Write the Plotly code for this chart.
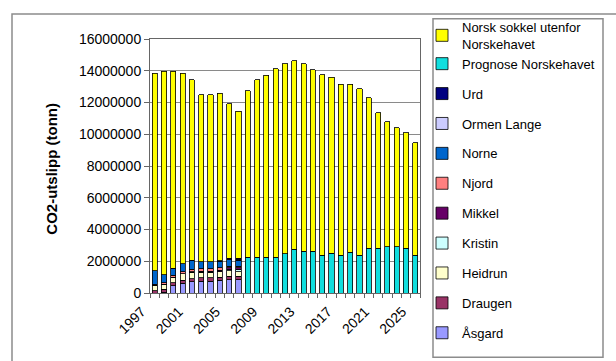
import plotly.graph_objects as go

years = [1997, 1998, 1999, 2000, 2001, 2002, 2003, 2004, 2005, 2006,
         2007, 2008, 2009, 2010, 2011, 2012, 2013, 2014, 2015, 2016,
         2017, 2018, 2019, 2020, 2021, 2022, 2023, 2024, 2025]

# field emissions (tonnes), 1997-2006 (zero afterwards)
asgard      = [0, 50000, 450000, 600000, 700000, 750000, 750000, 800000, 850000, 850000] + [0] * 19
draugen     = [150000, 200000, 200000, 200000, 200000, 200000, 200000, 200000, 200000, 200000] + [0] * 19
heidrun     = [350000, 300000, 350000, 400000, 400000, 350000, 350000, 350000, 350000, 300000] + [0] * 19
kristin     = [0, 0, 0, 0, 0, 0, 0, 0, 100000, 150000] + [0] * 19
mikkel      = [0, 0, 0, 0, 50000, 80000, 80000, 80000, 80000, 80000] + [0] * 19
njord       = [50000, 100000, 120000, 150000, 150000, 150000, 150000, 150000, 120000, 120000] + [0] * 19
norne       = [850000, 500000, 450000, 500000, 550000, 450000, 450000, 400000, 400000, 350000] + [0] * 19
ormen_lange = [0, 0, 0, 0, 0, 0, 0, 0, 0, 50000] + [0] * 19
urd         = [0, 0, 0, 0, 0, 0, 0, 50000, 80000, 80000] + [0] * 19

prognose = [0] * 10 + [2250000, 2250000, 2250000, 2250000, 2460000, 2770000, 2640000, 2640000,
                       2390000, 2500000, 2390000, 2560000, 2390000, 2810000, 2810000, 2910000,
                       2910000, 2810000, 2390000]

norsk_sokkel = [12430000, 12810000, 12390000, 11980000, 11390000, 10520000, 10520000, 10550000,
                9740000, 9270000, 10490000, 11190000, 11480000, 11890000, 11980000, 11870000,
                11810000, 11420000, 11360000, 11090000, 10750000, 10580000, 10480000, 9500000,
                8560000, 7870000, 7500000, 7290000, 7060000]

series = [
    ("Åsgard", asgard, "#9999FF"),
    ("Draugen", draugen, "#993366"),
    ("Heidrun", heidrun, "#FFFFCC"),
    ("Kristin", kristin, "#CCFFFF"),
    ("Mikkel", mikkel, "#660066"),
    ("Njord", njord, "#FF8080"),
    ("Norne", norne, "#0066CC"),
    ("Ormen Lange", ormen_lange, "#CCCCFF"),
    ("Urd", urd, "#000080"),
    ("Prognose Norskehavet", prognose, "#11DEDE"),
    ("Norsk sokkel utenfor<br>Norskehavet", norsk_sokkel, "#FFFF00"),
]

ytick_vals = [0, 2000000, 4000000, 6000000, 8000000, 10000000, 12000000, 14000000, 16000000]
xtick_vals = [1997, 2001, 2005, 2009, 2013, 2017, 2021, 2025]

FONT = "Liberation Sans, Arial, sans-serif"

fig = go.Figure()
n = len(series)
for i, (name, vals, col) in enumerate(series):
    grp = "top" if name.startswith("Prognose") or name.startswith("Norsk") else name
    fig.add_trace(go.Bar(
        x=years, y=vals, name=name, legendgroup=grp, legendrank=n - i,
        marker=dict(color=col, line=dict(color="#000000", width=0.8)),
    ))

# plot area in px: x 150..420, y 37..293
L, R, T, B = 150, 420, 37.3, 293.3
W, H = R - L, B - T

def px(x):
    return (x - L) / W

def py(y):
    return (B - y) / H

fig.update_layout(
    width=616, height=361,
    margin=dict(l=L, r=616 - R, t=T, b=361 - B, pad=0),
    paper_bgcolor="white", plot_bgcolor="white",
    barmode="stack", bargap=0.45,
    font=dict(family=FONT, size=14, color="#000"),
    showlegend=True,
    legend=dict(
        traceorder="grouped", tracegroupgap=10, maxheight=800,
        x=px(422), y=py(10), xanchor="left", yanchor="top",
        bgcolor="rgba(0,0,0,0)", borderwidth=0,
        font=dict(family=FONT, size=13, color="#000"),
    ),
    xaxis=dict(
        range=[1996.5, 2025.5], tickmode="array", tickvals=xtick_vals,
        ticktext=[str(v) for v in xtick_vals], tickangle=-45,
        ticks="", showgrid=False, zeroline=False,
        showline=True, linecolor="#666", linewidth=1, mirror=True,
        minor=dict(ticks="outside", ticklen=4, tick0=1996.5, dtick=1,
                   tickcolor="#666", showgrid=False),
        tickfont=dict(family=FONT, size=14),
        ticklabelshift=-13, ticklabelstandoff=4,
    ),
    yaxis=dict(
        range=[0, 16000000], tickmode="array", tickvals=ytick_vals,
        ticktext=[str(v) for v in ytick_vals],
        ticks="outside", ticklen=5, tickcolor="#666",
        showgrid=True, gridcolor="#8a8a8a", gridwidth=1, zeroline=False,
        showline=True, linecolor="#666", linewidth=1, mirror=True,
        tickfont=dict(family=FONT, size=14),
    ),
    shapes=[
        # outer chart frame
        dict(type="rect", xref="paper", yref="paper",
             x0=px(12), x1=px(700), y0=py(450), y1=py(12),
             line=dict(color="#8c8c8c", width=1.5), layer="below"),
        # legend box
        dict(type="rect", xref="paper", yref="paper",
             x0=px(433), x1=px(603), y0=py(358), y1=py(17),
             line=dict(color="#8c8c8c", width=1.5), fillcolor="rgba(0,0,0,0)"),
    ],
    annotations=[
        dict(text="<b>CO2-utslipp (tonn)</b>", xref="paper", yref="paper",
             x=px(52), y=py(168), textangle=-90, showarrow=False,
             xanchor="center", yanchor="middle",
             font=dict(family=FONT, size=15, color="#000")),
    ],
)

fig.write_html("out.html")
